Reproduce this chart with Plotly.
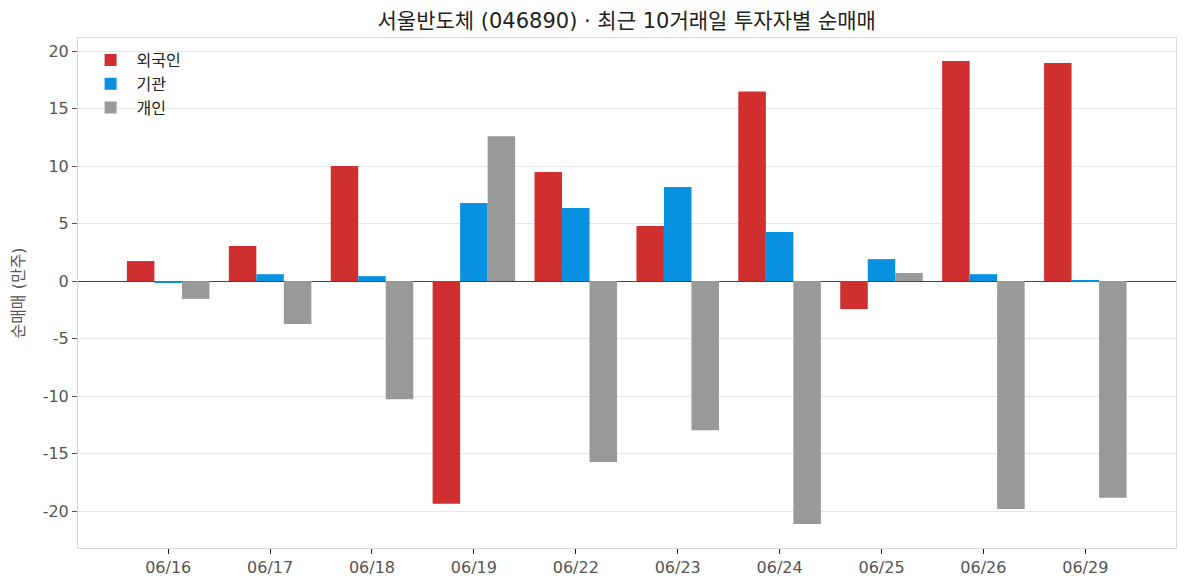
import plotly.graph_objects as go

dates = ["06/16", "06/17", "06/18", "06/19", "06/22", "06/23", "06/24", "06/25", "06/26", "06/29"]
foreign = [1.74, 3.04, 10.0, -19.36, 9.48, 4.78, 16.48, -2.43, 19.13, 18.96]
institution = [-0.14, 0.6, 0.43, 6.78, 6.35, 8.17, 4.26, 1.91, 0.6, 0.08]
individual = [-1.55, -3.72, -10.26, 12.6, -15.72, -12.96, -21.12, 0.7, -19.82, -18.84]

series_names = ["외국인", "기관", "개인"]
colors = ["#CF2F2F", "#0891E1", "#999999"]

FONT = "DejaVu Sans, Noto Sans CJK KR, sans-serif"

fig = go.Figure()
for name, vals, c in zip(series_names, [foreign, institution, individual], colors):
    fig.add_trace(go.Bar(x=dates, y=vals, name=name, marker=dict(color=c, line=dict(width=0))))

fig.update_layout(
    width=1187, height=587,
    margin=dict(l=78, r=11, t=38, b=39),
    paper_bgcolor="white", plot_bgcolor="white",
    barmode="group", bargap=0.19, bargroupgap=0,
    font=dict(family=FONT, color="#444", size=16),
    title=dict(text="서울반도체 (046890) · 최근 10거래일 투자자별 순매매",
               x=0.528, xanchor="center", y=0.965, yanchor="middle",
               font=dict(size=21, color="#222", family=FONT)),
    legend=dict(x=0.006, y=0.99, xanchor="left", yanchor="top",
                bgcolor="rgba(255,255,255,0)", font=dict(size=16, color="#222"),
                itemwidth=42, tracegroupgap=2),
    showlegend=True,
)
fig.update_xaxes(
    type="category", range=[-0.885, 9.89],
    showline=True, linecolor="#d9d9d9", linewidth=1, mirror=True,
    ticks="outside", ticklen=5, tickcolor="#222",
    showgrid=False, tickfont=dict(size=16, color="#555"),
)
fig.update_yaxes(
    range=[-23.2, 21.13], tickvals=[-20, -15, -10, -5, 0, 5, 10, 15, 20],
    ticktext=["-20", "-15", "-10", "-5", "0", "5", "10", "15", "20"],
    showline=True, linecolor="#d9d9d9", linewidth=1, mirror=True,
    ticks="outside", ticklen=5, tickcolor="#555",
    showgrid=True, gridcolor="#e6e6e6", gridwidth=1,
    zeroline=True, zerolinecolor="#444", zerolinewidth=1,
    tickfont=dict(size=16, color="#555"),
    title=dict(text="순매매 (만주)", font=dict(size=16, color="#555"), standoff=14),
)

fig.write_html("out.html")
